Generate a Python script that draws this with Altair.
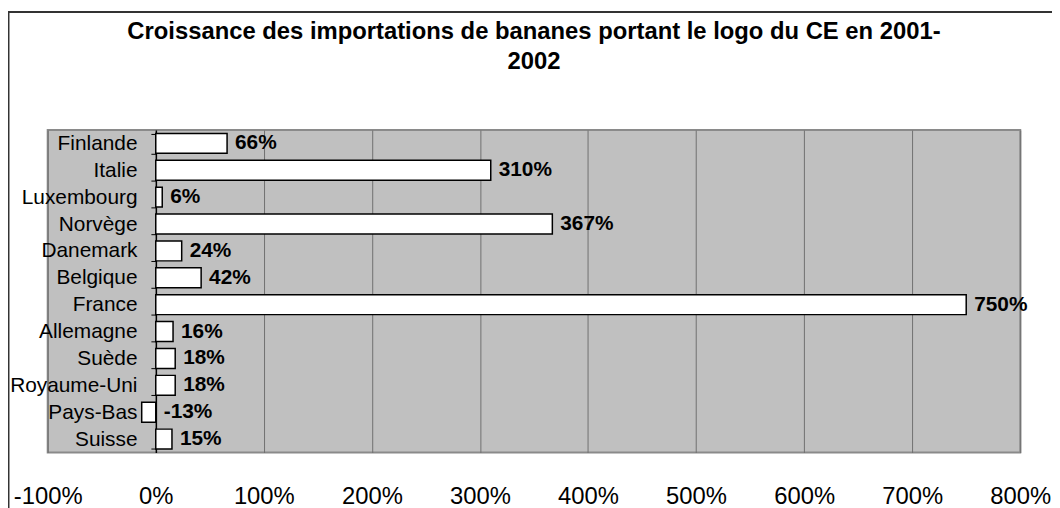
import altair as alt
import pandas as pd

countries = ["Finlande", "Italie", "Luxembourg", "Norvège", "Danemark", "Belgique",
             "France", "Allemagne", "Suède", "Royaume-Uni", "Pays-Bas", "Suisse"]
growth = [66, 310, 6, 367, 24, 42, 750, 16, 18, 18, -13, 15]
x_ticks = [-100, 0, 100, 200, 300, 400, 500, 600, 700, 800]
title_lines = ["Croissance des importations de bananes portant le logo du CE en 2001-", "2002"]

df = pd.DataFrame({"c": countries, "v": growth})
FONT = "Liberation Sans"

x_scale = alt.Scale(domain=[-100, 800], nice=False)
y_enc = alt.Y(
    "c:N", sort=countries, title=None,
    scale=alt.Scale(paddingInner=0.26, paddingOuter=0.13),
    axis=alt.Axis(orient="left", offset=-109, tickBand="extent", tickSize=5,
                  tickColor="#000000", domainColor="#000000", domainWidth=1.5,
                  labelFont=FONT, labelFontSize=21, labelColor="#000000",
                  labelPadding=14, grid=False),
)

bars = alt.Chart(df).mark_bar(fill="white", stroke="black", strokeWidth=1.5).encode(
    x=alt.X("v:Q", scale=x_scale, title=None,
            axis=alt.Axis(values=x_ticks, labelExpr="datum.value + '%'", grid=True,
                          gridColor="#707070", gridWidth=1, domain=False, ticks=False,
                          labelFont=FONT, labelFontSize=24, labelColor="#000000",
                          labelPadding=32, labelBaseline="top", labelFlush=False)),
    y=y_enc,
)

labels = alt.Chart(df).transform_calculate(
    lx="max(datum.v, 0)", lab="datum.v + '%'"
).mark_text(align="left", baseline="middle", dx=8, font=FONT, fontSize=21,
            fontWeight="bold", color="black").encode(
    x=alt.X("lx:Q", scale=x_scale),
    y=alt.Y("c:N", sort=countries),
    text="lab:N",
)

frame_df = pd.DataFrame({"a": [0]})
title_text = alt.Chart(frame_df).mark_text(
    font=FONT, fontSize=24, fontWeight="bold", color="black", align="center",
    baseline="alphabetic", lineBreak="\n", lineHeight=31
).encode(x=alt.value(490), y=alt.value(-92), text=alt.value("\n".join(title_lines)))

left_line = alt.Chart(frame_df).mark_rule(color="#333333", strokeWidth=3).encode(
    x=alt.value(-40), y=alt.value(-119), y2=alt.value(381))
top_line = alt.Chart(frame_df).mark_rule(color="#333333", strokeWidth=2).encode(
    x=alt.value(-40), x2=alt.value(1020), y=alt.value(-119))

chart = alt.layer(bars, labels, title_text, left_line, top_line).properties(
    width=980, height=325,
    autosize=alt.AutoSizeParams(type="none"),
    padding={"left": 40, "top": 121, "right": 32, "bottom": 54},
).configure(background="white").configure_view(
    fill="#C0C0C0", stroke="#8a8a8a", strokeWidth=2
)

chart.save("out.html", embed_options={"renderer": "svg", "actions": False})
